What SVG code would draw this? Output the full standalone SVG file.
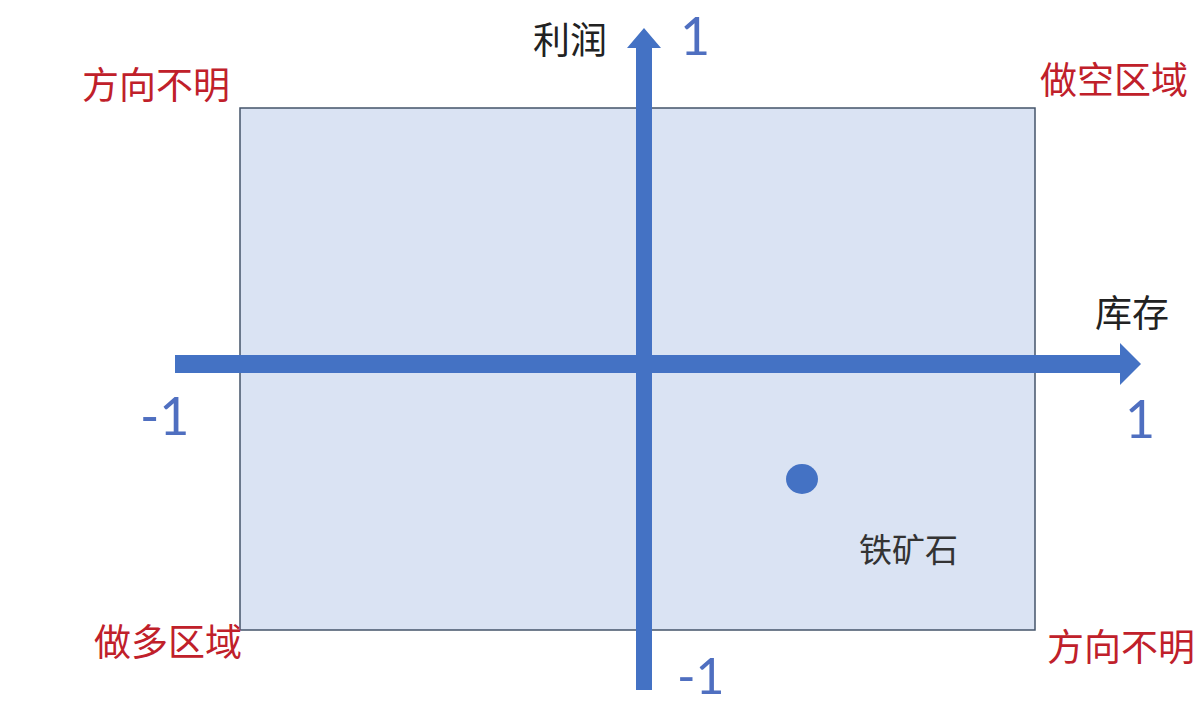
<svg xmlns="http://www.w3.org/2000/svg" width="1197" height="707" viewBox="0 0 1197 707">
<style>
.red{font-family:"Noto Sans CJK SC","Noto Sans",sans-serif;font-size:37px;fill:#c0202a}
.blk{font-family:"Noto Sans CJK SC","Noto Sans",sans-serif;font-size:37px;fill:#222}
.num{font-family:Lato,"DejaVu Sans",sans-serif;font-size:52px;fill:#4f6fc0}
.axis{fill:#4472c4}
</style>
<rect width="1197" height="707" fill="#ffffff"/>
<g id="quadrant">
<rect x="240" y="108" width="795" height="522" fill="#dae3f3" stroke="#44546a" stroke-width="1.5"/>
</g>
<g id="connectors">
<path class="axis" d="M175 355 H1120 V343 L1141 364 L1120 385 V373 H175 Z"/>
<path class="axis" d="M636 690 V48 H627 L644 28 L661 48 H652 V690 Z"/>
</g>
<g id="point">
<ellipse cx="802" cy="479" rx="16" ry="15" fill="#4472c4"/>
<text class="blk" x="859" y="562" style="font-size:33px;fill:#333">铁矿石</text>
</g>
<g id="labels">
<text class="blk" x="533" y="54">利润</text>
<text class="blk" x="1095" y="327">库存</text>
<text class="num" x="680" y="55">1</text>
<text class="num" x="1125" y="438">1</text>
<text class="num" x="140" y="435">-1</text>
<text class="num" x="677" y="694" style="font-size:50px">-1</text>
<text class="red" x="82" y="99">方向不明</text>
<text class="red" x="1040" y="94">做空区域</text>
<text class="red" x="94" y="656">做多区域</text>
<text class="red" x="1047" y="661">方向不明</text>
</g>
</svg>
